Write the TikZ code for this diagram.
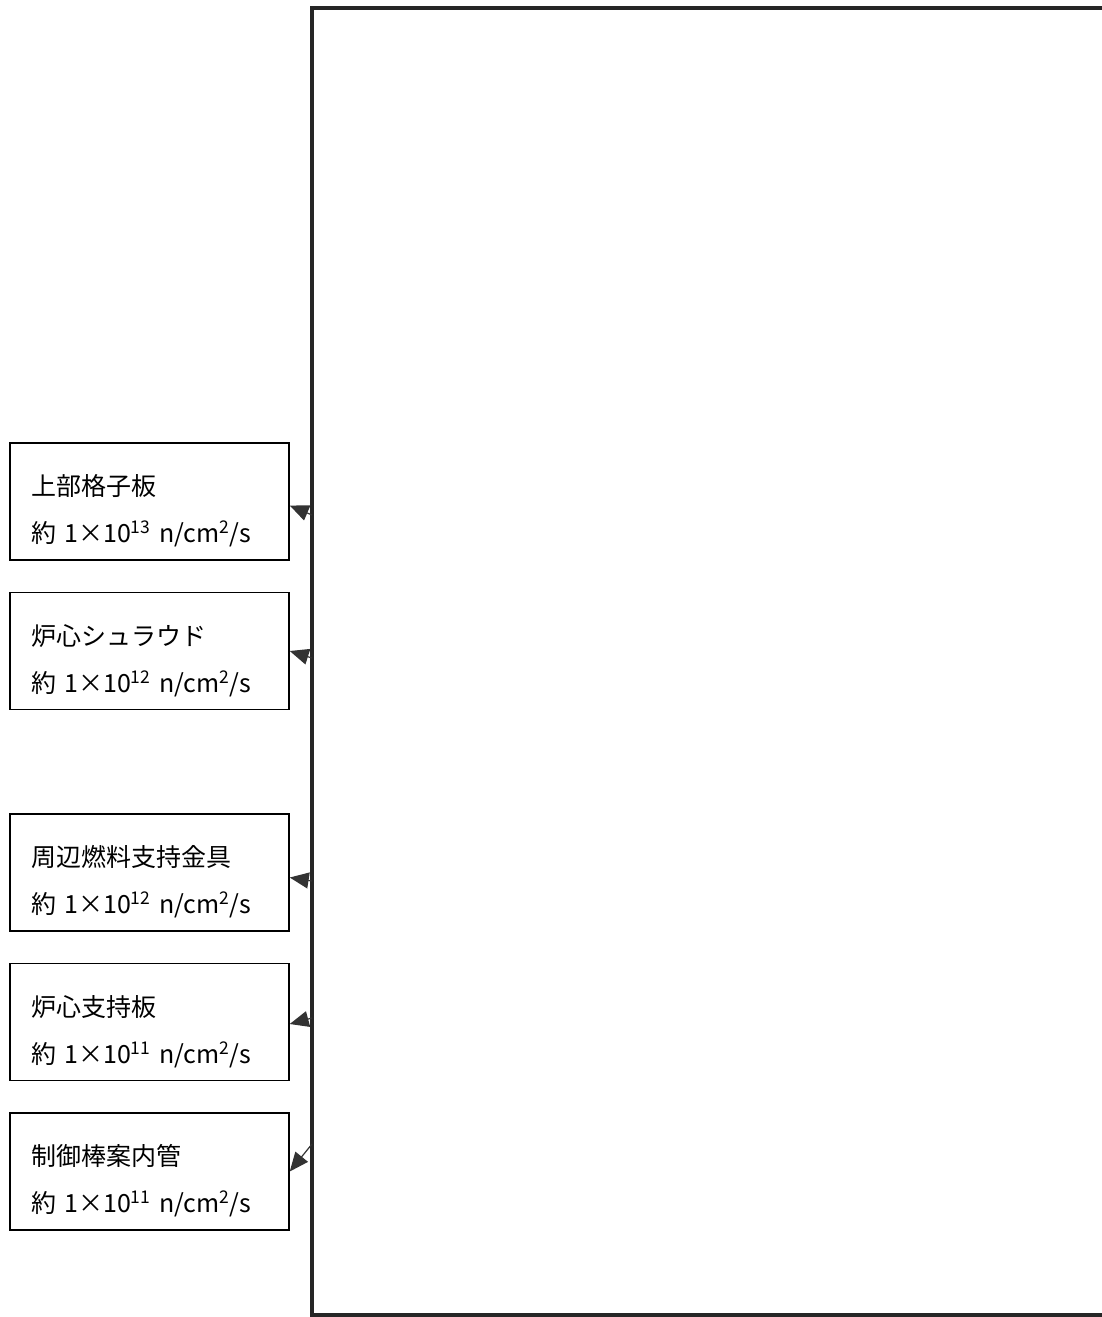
\documentclass[tikz,border=0pt]{standalone}
\usepackage{fontspec}
\setmainfont{Noto Sans CJK JP}
\usetikzlibrary{arrows.meta}

\begin{document}
\begin{tikzpicture}[x=1pt, y=-1pt]
		% Define the styles for the boxes and arrows
		\tikzstyle{fluxbox}
		=[draw, line width=1.5pt, minimum width=279pt, minimum height=117pt, inner xsep=21pt,
		text width=237pt, align=left, font=\fontsize{25}{47}\selectfont,
		execute at begin node={\rule{0pt}{40pt}}]
		\tikzstyle{fluxarrow}
		=[draw=black!80, line width=1.2pt, -{Triangle[length=19pt, width=16pt]}]
		
		\useasboundingbox (0, 0) rectangle (1101, 1317);
		
		% Vessel outline (right edge outside the picture)
		\draw[line width=3.5pt, black!85] (1110, 8) -- (312, 8) -- (312, 1315) -- (1110, 1315);
		
		% Start points of the arrows on the outline
		\coordinate (s1) at (312, 515); \coordinate (s2) at (312, 658);
		\coordinate (s3) at (312, 881); \coordinate (s4) at (312, 1018);
		\coordinate (s5) at (312, 1144);
		
		% Boxes with labels
		\node (b1) at (149.5, 501.5) [fluxbox] {上部格子板\\約 1×10\textsuperscript{13} n/cm\textsuperscript{2}/s};
		\node (b2) at (149.5, 651) [fluxbox] {炉心シュラウド\\約 1×10\textsuperscript{12} n/cm\textsuperscript{2}/s};
		\node (b3) at (149.5, 872.5) [fluxbox] {周辺燃料支持金具\\約 1×10\textsuperscript{12} n/cm\textsuperscript{2}/s};
		\node (b4) at (149.5, 1022) [fluxbox] {炉心支持板\\約 1×10\textsuperscript{11} n/cm\textsuperscript{2}/s};
		\node (b5) at (149.5, 1171.5) [fluxbox] {制御棒案内管\\約 1×10\textsuperscript{11} n/cm\textsuperscript{2}/s};
		
		% Arrows to the boxes
		\draw[fluxarrow] (s1) -- ([yshift=-4pt]b1.east); \draw[fluxarrow] (s2) -- (b2.east);
		\draw[fluxarrow] (s3) -- ([yshift=-5pt]b3.east); \draw[fluxarrow] (s4) -- ([yshift=-2pt]b4.east);
		\draw[fluxarrow] (s5) -- (b5.east);
	\end{tikzpicture}
\end{document}
